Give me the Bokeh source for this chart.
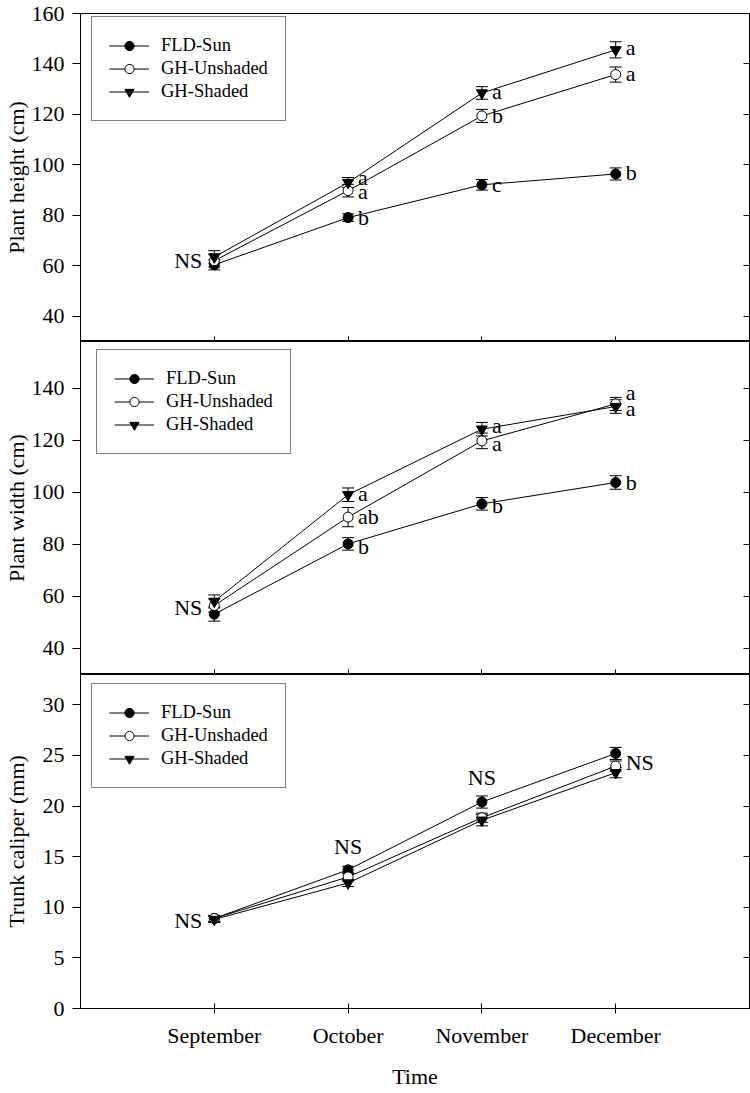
from bokeh.plotting import figure
from bokeh.models import ColumnDataSource, Whisker, TeeHead, Range1d, FixedTicker, LinearAxis
from bokeh.layouts import column
from bokeh.core.properties import value
from bokeh.embed import file_html
from bokeh.resources import INLINE

# ---------------- data ----------------
months = ["September", "October", "November", "December"]
x_idx = [1, 2, 3, 4]
series_names = ["FLD-Sun", "GH-Unshaded", "GH-Shaded"]

# Plant height (cm)
height_fld = [60.4, 79.1, 92.1, 96.4]
height_fld_err = [2.0, 1.5, 2.1, 2.4]
height_unsh = [62.0, 89.8, 119.4, 135.8]
height_unsh_err = [2.5, 2.5, 2.6, 3.0]
height_sh = [63.5, 93.0, 128.5, 145.6]
height_sh_err = [2.5, 2.0, 2.5, 3.2]
height_ticks = [40, 60, 80, 100, 120, 140, 160]

# Plant width (cm)
width_fld = [53.2, 80.2, 95.6, 103.8]
width_fld_err = [2.7, 2.4, 2.4, 2.6]
width_unsh = [56.5, 90.5, 119.8, 134.0]
width_unsh_err = [2.5, 3.7, 3.0, 2.5]
width_sh = [58.1, 99.1, 124.3, 133.0]
width_sh_err = [2.5, 2.6, 2.6, 2.6]
width_ticks = [40, 60, 80, 100, 120, 140]

# Trunk caliper (mm)
cal_fld = [8.9, 13.7, 20.4, 25.2]
cal_fld_err = [0.3, 0.35, 0.6, 0.6]
cal_unsh = [8.9, 13.0, 18.85, 23.95]
cal_unsh_err = [0.3, 0.4, 0.45, 0.5]
cal_sh = [8.8, 12.4, 18.6, 23.3]
cal_sh_err = [0.3, 0.35, 0.55, 0.5]
cal_ticks = [0, 5, 10, 15, 20, 25, 30]

# Significance letters
h_left_x, h_left_y, h_left_t = [1], [62.0], ["NS"]
h_right_x = [2, 2, 2, 3, 3, 3, 4, 4, 4]
h_right_y = [95.0, 89.3, 79.2, 129.1, 119.6, 92.3, 146.5, 136.3, 97.0]
h_right_t = ["a", "a", "b", "a", "b", "c", "a", "a", "b"]

w_left_x, w_left_y, w_left_t = [1], [55.6], ["NS"]
w_right_x = [2, 2, 2, 3, 3, 3, 4, 4, 4]
w_right_y = [99.5, 90.7, 79.2, 125.9, 118.9, 94.8, 138.3, 132.3, 103.8]
w_right_t = ["a", "ab", "b", "a", "a", "b", "a", "a", "b"]

c_left_x, c_left_y, c_left_t = [1], [8.7], ["NS"]
c_above_x, c_above_y, c_above_t = [2, 3], [16.0, 22.8], ["NS", "NS"]
c_right_x, c_right_y, c_right_t = [4], [24.35], ["NS"]

# ---------------- styling ----------------
FONT = "Liberation Serif"
W = 750
LEFT = 80


def style_marker(p, name, xs, ys):
    if name == "FLD-Sun":
        p.scatter(xs, ys, marker="circle", size=10, fill_color="black", line_color="black",
                  legend_label=name)
    elif name == "GH-Unshaded":
        p.scatter(xs, ys, marker="circle", size=10, fill_color="white", line_color="black",
                  line_width=1, legend_label=name)
    else:
        p.scatter(xs, ys, marker="inverted_triangle", size=11, fill_color="black",
                  line_color="black", legend_label=name)


def add_text(p, xs, ys, texts, align, x_off, y_off=0):
    src = ColumnDataSource(dict(x=xs, y=ys, text=texts))
    p.text(x="x", y="y", text="text", source=src, x_offset=x_off, y_offset=y_off,
           text_align=align, text_baseline="middle", text_font=value(FONT),
           text_font_size="22px", text_color="black")


def hide_labels(ax):
    ax.major_label_text_font_size = "1px"
    ax.major_label_text_color = None
    ax.major_label_standoff = 0


def make_panel(vals, errs, ylo, yhi, ticks, ylabel, height, top, bottom, label_standoff,
               show_x, legend_xy):
    p = figure(width=W, height=height, x_range=Range1d(0, 5), y_range=Range1d(ylo, yhi),
               output_backend="svg", toolbar_location=None,
               min_border_left=LEFT, min_border_right=1, min_border_top=top,
               min_border_bottom=bottom, outline_line_color="black", outline_line_width=1,
               background_fill_color="white", border_fill_color="white")
    p.grid.visible = False

    # lines
    for name, v in zip(series_names, vals):
        p.line(x_idx, v, line_color="black", line_width=1, legend_label=name)
    # error bars
    for v, e in zip(vals, errs):
        src = ColumnDataSource(dict(x=x_idx, upper=[a + b for a, b in zip(v, e)],
                                    lower=[a - b for a, b in zip(v, e)]))
        w = Whisker(source=src, base="x", upper="upper", lower="lower",
                    line_color="black", line_width=1,
                    upper_head=TeeHead(size=12, line_color="black", line_width=1),
                    lower_head=TeeHead(size=12, line_color="black", line_width=1))
        p.add_layout(w)
    # markers
    for name, v in zip(series_names, vals):
        style_marker(p, name, x_idx, v)

    # y axis
    ya = p.yaxis[0]
    ya.ticker = FixedTicker(ticks=ticks)
    ya.major_tick_out = 8
    ya.major_tick_in = 0
    ya.minor_tick_line_color = None
    ya.major_label_standoff = 8
    ya.major_label_text_font = FONT
    ya.major_label_text_font_size = "22px"
    ya.major_label_text_color = "black"
    ya.axis_label = ylabel
    ya.axis_label_text_font = FONT
    ya.axis_label_text_font_size = "22px"
    ya.axis_label_text_font_style = "normal"
    ya.axis_label_text_color = "black"
    ya.axis_label_standoff = label_standoff
    ya.axis_line_color = "black"
    ya.major_tick_line_color = "black"

    ra = LinearAxis(ticker=FixedTicker(ticks=ticks), major_tick_in=6, major_tick_out=0,
                    minor_tick_line_color=None, axis_line_color="black",
                    major_tick_line_color="black")
    hide_labels(ra)
    p.add_layout(ra, "right")

    # x axis
    xa = p.xaxis[0]
    xa.ticker = FixedTicker(ticks=x_idx)
    xa.minor_tick_line_color = None
    xa.axis_line_color = "black"
    xa.major_tick_line_color = "black"
    if show_x:
        xa.major_label_overrides = {i: m for i, m in zip(x_idx, months)}
        xa.major_tick_in = 5
        xa.major_tick_out = 5
        xa.major_label_standoff = 9
        xa.major_label_text_font = FONT
        xa.major_label_text_font_size = "22px"
        xa.major_label_text_color = "black"
        xa.axis_label = "Time"
        xa.axis_label_text_font = FONT
        xa.axis_label_text_font_size = "22px"
        xa.axis_label_text_font_style = "normal"
        xa.axis_label_text_color = "black"
        xa.axis_label_standoff = 13
    else:
        xa.major_tick_in = 5
        xa.major_tick_out = 0
        hide_labels(xa)

    lg = p.legend[0]
    lg.location = legend_xy
    lg.margin = 0
    lg.label_text_font = FONT
    lg.label_text_font_size = "18.5px"
    lg.label_text_color = "black"
    lg.glyph_width = 40
    lg.glyph_height = 23
    lg.label_height = 23
    lg.label_standoff = 12
    lg.spacing = 0
    lg.padding = 17
    lg.border_line_color = "black"
    lg.border_line_width = 1
    lg.background_fill_alpha = 1
    return p


p1 = make_panel([height_fld, height_unsh, height_sh],
                [height_fld_err, height_unsh_err, height_sh_err],
                30, 160, height_ticks, "Plant height (cm)", 341, 13, 0, 0, False, (11, 220))
add_text(p1, h_left_x, h_left_y, h_left_t, "right", -12)
add_text(p1, h_right_x, h_right_y, h_right_t, "left", 10)

p2 = make_panel([width_fld, width_unsh, width_sh],
                [width_fld_err, width_unsh_err, width_sh_err],
                30, 158, width_ticks, "Plant width (cm)", 333, 0, 0, 0, False, (16, 220))
add_text(p2, w_left_x, w_left_y, w_left_t, "right", -12)
add_text(p2, w_right_x, w_right_y, w_right_t, "left", 10)

p3 = make_panel([cal_fld, cal_unsh, cal_sh],
                [cal_fld_err, cal_unsh_err, cal_sh_err],
                0, 33, cal_ticks, "Trunk caliper (mm)", 418, 0, 84, 11, True, (11, 220))
add_text(p3, c_left_x, c_left_y, c_left_t, "right", -12)
add_text(p3, c_above_x, c_above_y, c_above_t, "center", 0)
add_text(p3, c_right_x, c_right_y, c_right_t, "left", 10)

layout = column(p1, p2, p3, spacing=0)
open("out.html", "w").write(file_html(layout, INLINE))
